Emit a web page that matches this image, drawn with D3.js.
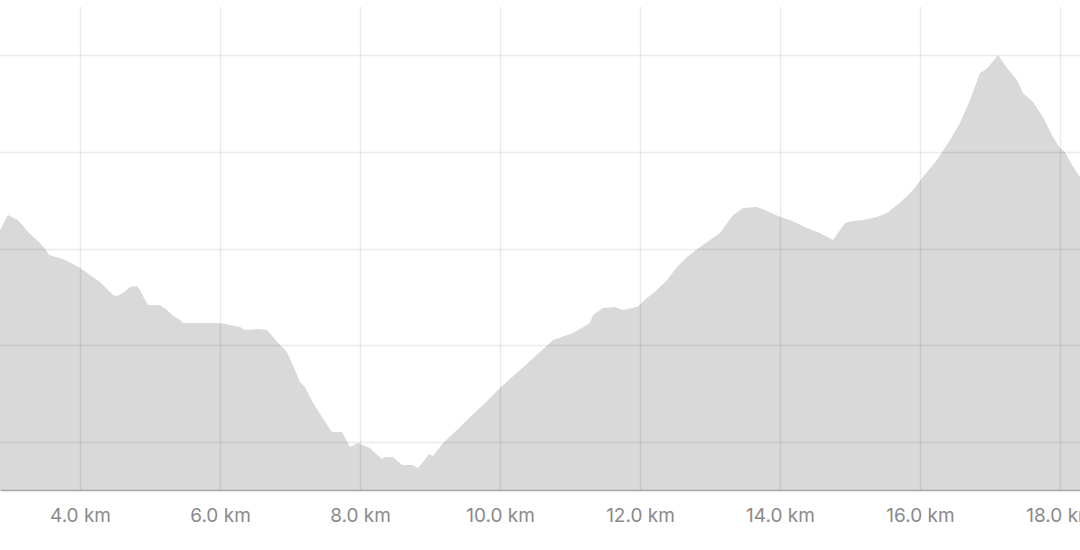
<!DOCTYPE html>
<html>
<head>
<meta charset="utf-8">
<script src="https://cdn.jsdelivr.net/npm/d3@7"></script>
<style>
  html, body { margin: 0; padding: 0; background: #fff; }
  svg { display: block; }
</style>
</head>
<body>
<svg id="chart" width="1080" height="550"></svg>
<script>
// Distance along route (km)
const distanceKm = [2.857, 2.971, 3.114, 3.271, 3.414, 3.514, 3.557, 3.757, 3.871, 4.0,
  4.143, 4.286, 4.471, 4.529, 4.614, 4.714, 4.814, 4.857, 4.929, 4.971,
  5.143, 5.243, 5.314, 5.429, 5.471, 6.0, 6.143, 6.286, 6.357, 6.529,
  6.671, 6.757, 6.829, 6.957, 7.071, 7.143, 7.214, 7.329, 7.457, 7.6,
  7.743, 7.857, 7.971, 8.143, 8.214, 8.314, 8.357, 8.471, 8.6, 8.757,
  8.829, 8.9, 8.986, 9.043, 9.186, 9.386, 9.571, 9.757, 10.0, 10.286,
  10.571, 10.757, 11.043, 11.286, 11.329, 11.471, 11.643, 11.757, 11.957, 12.1,
  12.243, 12.386, 12.529, 12.671, 12.857, 13.143, 13.329, 13.471, 13.671, 13.814,
  13.971, 14.143, 14.386, 14.571, 14.757, 14.829, 14.929, 15.043, 15.186, 15.386,
  15.529, 15.671, 15.786, 15.9, 16.043, 16.243, 16.429, 16.571, 16.714, 16.857,
  16.929, 17.0, 17.114, 17.243, 17.386, 17.471, 17.614, 17.757, 17.9, 18.0,
  18.071, 18.171, 18.286];
// Elevation (m)
const elevationM = [409.6, 417.3, 414.8, 408.0, 403.4, 399.2, 396.6, 394.6, 392.5, 389.9,
  386.3, 382.7, 375.9, 375.4, 377.0, 380.1, 380.6, 378.5, 373.3, 370.7,
  370.7, 368.2, 365.6, 363.0, 361.4, 361.4, 360.4, 359.4, 357.8, 358.3,
  357.8, 354.2, 351.1, 346.4, 337.1, 330.9, 328.3, 320.0, 312.8, 305.0,
  305.0, 297.3, 299.3, 296.7, 294.2, 291.0, 292.1, 292.1, 287.9, 287.9,
  286.4, 289.5, 293.6, 292.6, 299.3, 306.1, 312.8, 319.0, 327.8, 337.1,
  346.4, 352.6, 356.3, 361.4, 365.6, 369.2, 369.7, 368.2, 369.7, 374.4,
  378.5, 383.7, 390.4, 395.6, 400.8, 408.0, 417.3, 421.0, 421.5, 419.4,
  416.8, 414.8, 410.6, 408.0, 404.4, 408.0, 413.2, 414.2, 414.8, 416.3,
  418.4, 422.5, 426.1, 430.3, 437.0, 445.8, 456.2, 465.0, 476.9, 490.8,
  492.4, 495.0, 500.2, 493.4, 487.2, 480.5, 475.8, 468.1, 457.7, 452.0,
  450.0, 443.2, 437.0];
const xTicks = [4, 6, 8, 10, 12, 14, 16, 18];
const xTickLabels = ["4.0 km", "6.0 km", "8.0 km", "10.0 km", "12.0 km", "14.0 km", "16.0 km", "18.0 km"];
const yGrid = [300, 350, 400, 450, 500];

const data = distanceKm.map((d, i) => ({ km: d, ele: elevationM[i] }));

const W = 1080, H = 550;
const plotTop = 7, plotBottom = 490;
const svg = d3.select("#chart");

const x = d3.scaleLinear().domain([2.857, 18.286]).range([0, 1080]);
const y = d3.scaleLinear().domain([275, 525]).range([plotBottom, plotTop]);

svg.append("defs").append("clipPath").attr("id", "clip")
  .append("rect").attr("x", 0).attr("y", 0).attr("width", W).attr("height", plotBottom);

const area = d3.area()
  .x(d => x(d.km))
  .y0(plotBottom)
  .y1(d => y(d.ele))
  .curve(d3.curveLinear);

svg.append("path")
  .datum(data)
  .attr("clip-path", "url(#clip)")
  .attr("d", area)
  .attr("fill", "#d9d9d9");

// grid on top (semi-transparent)
const grid = svg.append("g");
grid.selectAll("line.v").data(xTicks).join("line")
  .attr("class", "v")
  .attr("x1", d => Math.round(x(d)) + 0.5).attr("x2", d => Math.round(x(d)) + 0.5)
  .attr("y1", plotTop).attr("y2", plotBottom)
  .attr("stroke", "rgba(0,0,0,0.08)").attr("stroke-width", 1.5);
grid.selectAll("line.h").data(yGrid).join("line")
  .attr("class", "h")
  .attr("x1", 0).attr("x2", W)
  .attr("y1", d => Math.round(y(d)) + 0.5).attr("y2", d => Math.round(y(d)) + 0.5)
  .attr("stroke", "rgba(0,0,0,0.08)").attr("stroke-width", 1.5);

// x axis
const xAxis = d3.axisBottom(x)
  .tickValues(xTicks)
  .tickFormat((d, i) => xTickLabels[i])
  .tickSize(0)
  .tickPadding(19);
const gx = svg.append("g").attr("transform", `translate(0,${plotBottom})`).call(xAxis);
gx.select(".domain").attr("stroke", "#a8a8a8").attr("stroke-width", 1.5);
gx.selectAll("text")
  .attr("fill", "#8a8a8a")
  .style("font-family", "Inter, 'Noto Sans', sans-serif")
  .style("font-size", "19px");
</script>
</body>
</html>
